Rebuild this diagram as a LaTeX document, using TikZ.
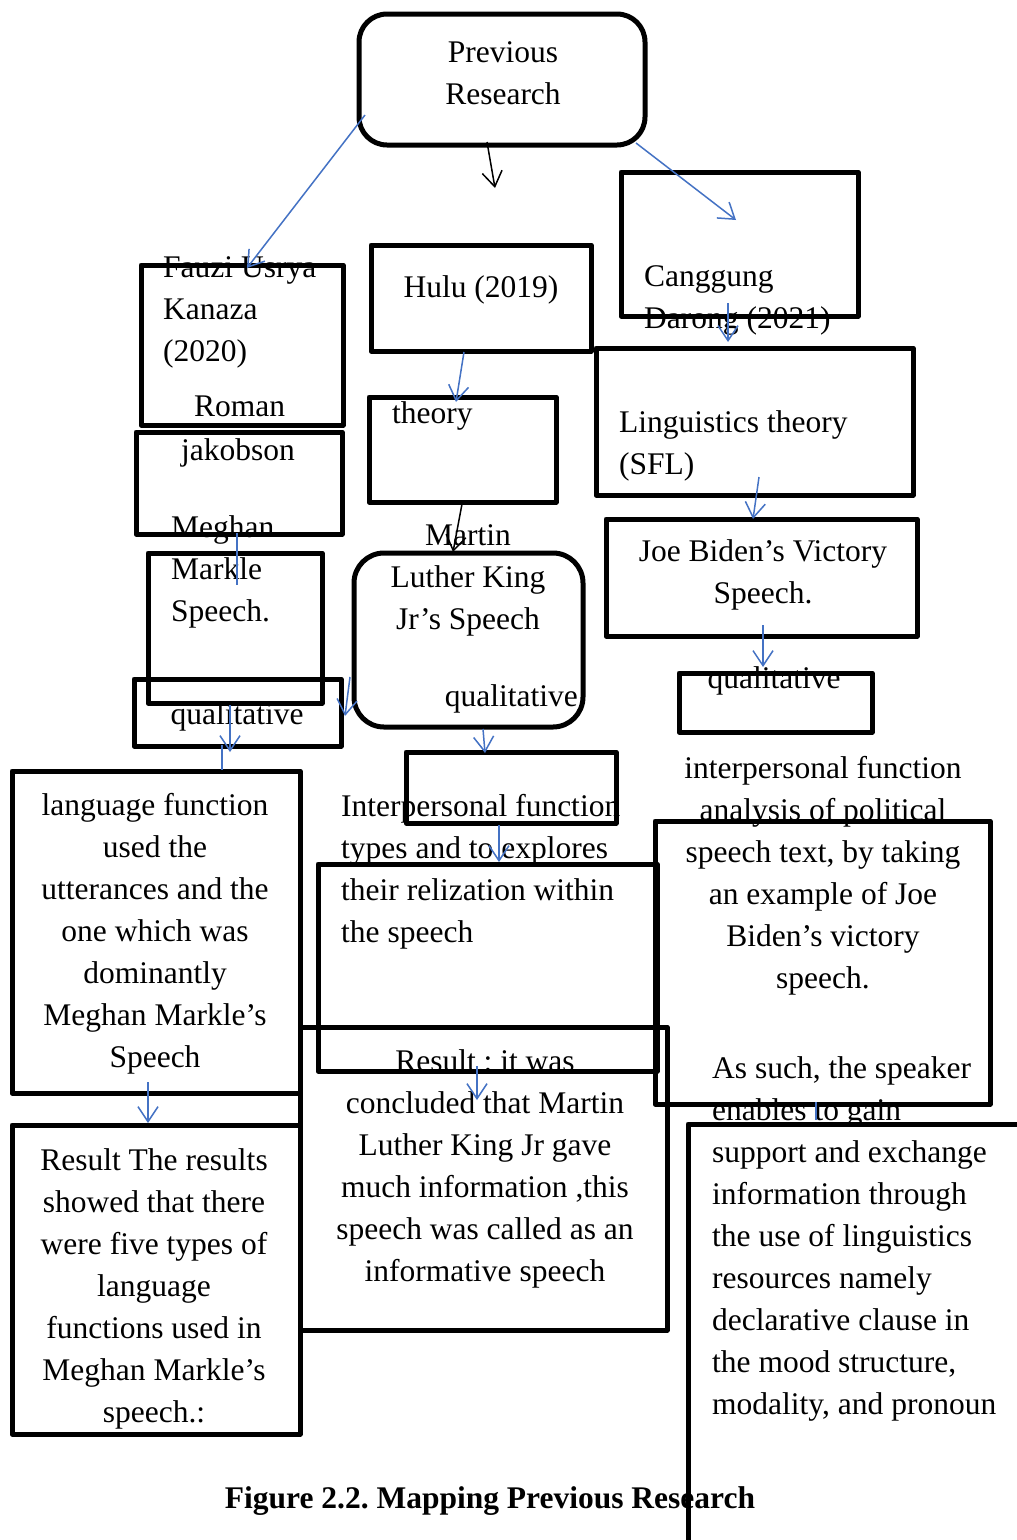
\documentclass[tikz,border=0pt]{standalone}
\usepackage{fontspec}
\setmainfont{Liberation Serif}
\usetikzlibrary{arrows.meta}
\definecolor{wblue}{RGB}{68,114,196}
\frenchspacing
\begin{document}
\begin{tikzpicture}[x=1pt,y=-1pt,
  box/.style={draw=black, line width=5pt, line join=round},
  rbox/.style={box, rounded corners=28pt},
  txt/.style={inner sep=0pt, font=\fontsize{31.5}{42}\selectfont\frenchspacing, execute at begin node=\strut},
  barrow/.style={draw=wblue, line width=1.5pt, -{Straight Barb[length=15pt,width=20pt]}},
  karrow/.style={draw=black, line width=1.5pt, -{Straight Barb[length=15pt,width=20pt]}},
  bline/.style={draw=wblue, line width=1.5pt}]
\useasboundingbox (0,0) rectangle (1017,1540);
\fill[white] (0,0) rectangle (1017,1540);

% boxes
\draw[rbox] (359,14) rectangle (645,145);
\draw[box] (141,265) rectangle (343,425);
\draw[box] (136,432) rectangle (342,534);
\draw[box] (148,553) rectangle (322,703);
\draw[box] (134,679) rectangle (341,746);
\draw[box, rounded corners=30pt] (354,553) rectangle (583,727);
\draw[box] (371,245) rectangle (591,351);
\draw[box] (369,397) rectangle (556,502);
\draw[box] (406,752) rectangle (616,823);
\draw[box] (318,864) rectangle (657,1071);
\draw[box] (300,1027) rectangle (667,1330);
\draw[box] (12,771) rectangle (300,1093);
\draw[box] (12,1125) rectangle (300,1434);
\draw[box] (621,172) rectangle (858,316);
\draw[box] (596,348) rectangle (913,495);
\draw[box] (606,519) rectangle (917,636);
\draw[box] (679,673) rectangle (872,732);
\draw[box] (655,821) rectangle (990,1104);
\draw[box] (688,1540) -- (688,1124) -- (1017,1124);

% texts
\node[txt, align=center, anchor=north] (prev) at (503,41) {Previous\\Research};
\node[txt, align=left, anchor=north west] (fauzi) at (163,256) {Fauzi Usrya\\Kanaza\\(2020)};
\node[txt, anchor=north west] (roman) at (194,387) {Roman};
\node[txt, anchor=north west] (jakob) at (181,431) {jakobson};
\node[txt, align=left, anchor=north west] (meghan) at (171,515) {Meghan\\Markle\\Speech.};
\node[txt, anchor=north] (qual1) at (237,695) {qualitative};
\node[txt, anchor=north] (hulu) at (481,268) {Hulu (2019)};
\node[txt, anchor=north west] (theory) at (392,394) {theory};
\node[txt, align=center, anchor=north] (mlk) at (468,524) {Martin\\Luther King\\Jr’s Speech};
\node[txt, anchor=north east] (qual2) at (578,677) {qualitative};
\node[txt, align=left, anchor=north west] (inter) at (341,794) {Interpersonal function\\types and to explores\\their relization within\\the speech};
\node[txt, align=center, anchor=north] (langf) at (155,793) {language function\\used the\\utterances and the\\one which was\\dominantly\\Meghan Markle’s\\Speech};
\node[txt, align=center, anchor=north] (res1) at (154,1148) {Result The results\\showed that there\\were five types of\\language\\functions used in\\Meghan Markle’s\\speech.:};
\node[txt, align=center, anchor=north] (res2) at (485,1049) {Result : it was\\concluded that Martin\\Luther King Jr gave\\much information ,this\\speech was called as an\\informative speech};
\node[txt, align=left, anchor=north west] (cang) at (644,265) {Canggung\\Darong (2021)};
\node[txt, align=left, anchor=north west] (ling) at (619,410) {Linguistics theory\\(SFL)};
\node[txt, align=center, anchor=north] (biden) at (763,539) {Joe Biden’s Victory\\Speech.};
\node[txt, anchor=north] (qual3) at (774,659) {qualitative};
\node[txt, align=center, anchor=north] (ipf) at (823,756) {interpersonal function\\analysis of political\\speech text, by taking\\an example of Joe\\Biden’s victory\\speech.};
\node[txt, align=left, anchor=north west] (assuch) at (712,1056) {As such, the speaker\\enables to gain\\support and exchange\\information through\\the use of linguistics\\resources namely\\declarative clause in\\the mood structure,\\modality, and pronoun};
\node[txt, anchor=north, font=\bfseries\fontsize{31.5}{42}\selectfont\frenchspacing] (cap) at (490,1479) {Figure 2.2. Mapping Previous Research};

% connector end points
\coordinate (k1s) at (487,142); \coordinate (k1e) at (495,188);
\coordinate (a2s) at (365,115); \coordinate (a2e) at (247,268);
\coordinate (a3s) at (636,143); \coordinate (a3e) at (736,220);
\coordinate (a4s) at (464,352); \coordinate (a4e) at (456,402);
\coordinate (k5s) at (462,504); \coordinate (k5e) at (453,552);
\coordinate (l6s) at (237,533); \coordinate (l6e) at (237,585);
\coordinate (a7s) at (230,705); \coordinate (a7e) at (230,752);
\coordinate (l8s) at (222,745); \coordinate (l8e) at (222,770);
\coordinate (a9s) at (350,677); \coordinate (a9e) at (345,716);
\coordinate (a10s) at (483,729); \coordinate (a10e) at (485,753);
\coordinate (a11s) at (499,825); \coordinate (a11e) at (499,862);
\coordinate (a12s) at (477,1066); \coordinate (a12e) at (477,1100);
\coordinate (a13s) at (148,1082); \coordinate (a13e) at (148,1123);
\coordinate (a14s) at (728,303); \coordinate (a14e) at (728,342);
\coordinate (a15s) at (759,477); \coordinate (a15e) at (753,519);
\coordinate (a16s) at (763,625); \coordinate (a16e) at (763,667);
\coordinate (l17s) at (816,1102); \coordinate (l17e) at (816,1120);

% connectors
\draw[karrow] (k1s) -- (k1e);
\draw[barrow] (a2s) -- (a2e);
\draw[barrow] (a3s) -- (a3e);
\draw[barrow] (a4s) -- (a4e);
\draw[karrow] (k5s) -- (k5e);
\draw[bline] (l6s) -- (l6e);
\draw[barrow] (a7s) -- (a7e);
\draw[bline] (l8s) -- (l8e);
\draw[barrow] (a9s) -- (a9e);
\draw[barrow] (a10s) -- (a10e);
\draw[barrow] (a11s) -- (a11e);
\draw[barrow] (a12s) -- (a12e);
\draw[barrow] (a13s) -- (a13e);
\draw[barrow] (a14s) -- (a14e);
\draw[barrow] (a15s) -- (a15e);
\draw[barrow] (a16s) -- (a16e);
\draw[bline] (l17s) -- (l17e);
\end{tikzpicture}
\end{document}
